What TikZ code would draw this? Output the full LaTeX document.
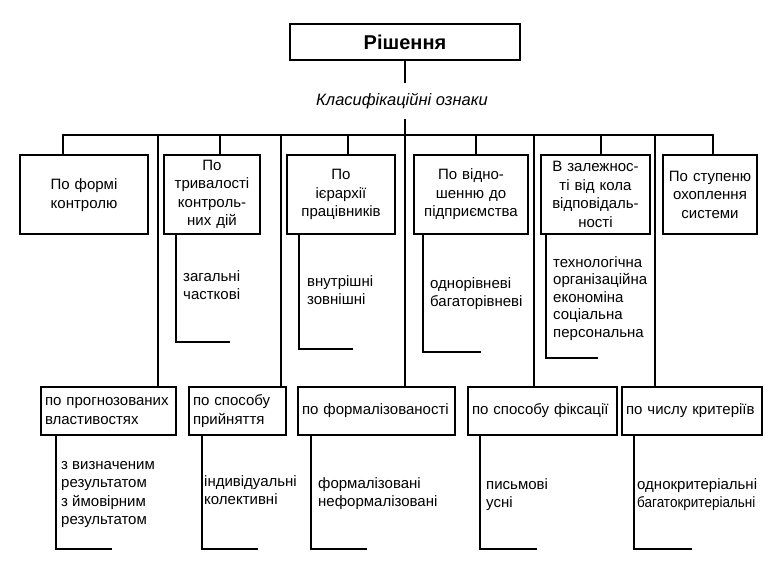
\documentclass[tikz,border=0pt]{standalone}
\usepackage{fontspec}
\setmainfont{Liberation Sans}
\tikzset{
  conn/.style={line width=1.4pt},
  headbox/.style={draw, line width=1.4pt, font=\fontsize{20}{24}\selectfont\bfseries,
    minimum width=230, minimum height=36, inner sep=0pt},
  catbox/.style={draw, line width=1.4pt, font=\fontsize{15}{18.5}\selectfont,
    align=center, inner xsep=3pt, inner ysep=0pt, minimum height=79},
  subbox/.style={draw, line width=1.4pt, font=\fontsize{15}{19}\selectfont,
    align=left, inner xsep=4pt, inner ysep=0pt, minimum height=48},
  items/.style={font=\fontsize{15}{18.5}\selectfont, align=left,
    anchor=north west, inner sep=0pt},
}
\begin{document}
\begin{tikzpicture}[x=1pt,y=-1pt]
\useasboundingbox (0,0) rectangle (766,563);

% root and the classification label
\node[headbox] (top) at (405,42) {Рішення};
\node[font=\fontsize{16.5}{20}\selectfont\itshape, text height=12, text depth=4,
      inner xsep=0pt, inner ysep=10pt] (lbl) at (402,101) {Класифікаційні ознаки};

% bus and branch points
\coordinate (busL) at (63,135);
\coordinate (busR) at (713,135);
\coordinate (t2) at (220,135);
\coordinate (t3) at (348,135);
\coordinate (t4) at (476,135);
\coordinate (t5) at (601,135);
\coordinate (k1) at (158,135);
\coordinate (k2) at (281,135);
\coordinate (k3) at (405,135);
\coordinate (k4) at (534,135);
\coordinate (k5) at (655,135);

% first row of criteria
\node[catbox, text width=122] (r1a) at (84,194.5) {\\[-6pt]По формі\\контролю};
\node[catbox, text width=90]  (r1b) at (212,194.5) {По\\тривалості\\контроль-\\них дій};
\node[catbox, text width=102] (r1c) at (341,194.5) {По\\ієрархії\\працівників};
\node[catbox, text width=108] (r1d) at (471,194.5) {По відно-\\шенню до\\підприємства};
\node[catbox, text width=103] (r1e) at (595.5,194.5) {В залежнос-\\ті від кола\\відповідаль-\\ності};
\node[catbox, text width=88]  (r1f) at (710,194.5) {По ступеню\\охоплення\\системи};

% second row of criteria
\node[subbox, text width=127] (r2a) at (108.5,411) {по прогнозованих\\властивостях};
\node[subbox, text width=89]  (r2b) at (237.5,411) {по способу\\прийняття};
\node[subbox, text width=149] (r2c) at (376.5,411) {по формалізованості};
\node[subbox, text width=141] (r2d) at (542.5,411) {по способу фіксації};
\node[subbox, text width=132] (r2e) at (692,411) {по числу критеріїв};

% trunk
\draw[conn] (top.south) -- (lbl.north -| top.south);
\draw[conn] (k3 |- lbl.south) -- (k3);

% bus with drops to the first row
\draw[conn] (r1a.north -| busL) -- (busL) -- (busR) -- (r1f.north -| busR);
\draw[conn] (t2) -- (t2 |- r1b.north);
\draw[conn] (t3) -- (t3 |- r1c.north);
\draw[conn] (t4) -- (t4 |- r1d.north);
\draw[conn] (t5) -- (t5 |- r1e.north);

% long drops to the second row
\draw[conn] (k1) -- (k1 |- r2a.north);
\draw[conn] (k2) -- (k2 |- r2b.north);
\draw[conn] (k3) -- (k3 |- r2c.north);
\draw[conn] (k4) -- (k4 |- r2d.north);
\draw[conn] (k5) -- (k5 |- r2e.north);

% value lists under the first row
\node[items] (v2) at (183,268) {\strut загальні\\часткові};
\node[items] (v3) at (307,273) {\strut внутрішні\\зовнішні};
\node[items] (v4) at (430,275) {\strut однорівневі\\багаторівневі};
\node[items, font=\fontsize{15}{17.5}\selectfont] (v5) at (553,254.6)
  {\strut технологічна\\організаційна\\економіна\\соціальна\\персональна};

\coordinate (b2) at (176,342);  \coordinate (e2) at (230,342);
\coordinate (b3) at (299,349);  \coordinate (e3) at (353,349);
\coordinate (b4) at (423,352);  \coordinate (e4) at (481,352);
\coordinate (b5) at (546,358);  \coordinate (e5) at (598,358);
\draw[conn] (b2 |- r1b.south) -- (b2) -- (e2);
\draw[conn] (b3 |- r1c.south) -- (b3) -- (e3);
\draw[conn] (b4 |- r1d.south) -- (b4) -- (e4);
\draw[conn] (b5 |- r1e.south) -- (b5) -- (e5);

% value lists under the second row
\node[items] (w1) at (61,456) {\strut з визначеним\\результатом\\з ймовірним\\результатом};
\node[items] (w2) at (204,473) {\strut індивідуальні\\колективні};
\node[items] (w3) at (318,475) {\strut формалізовані\\неформалізовані};
\node[items] (w4) at (486,476) {\strut письмові\\усні};
\node[items] (w5) at (637,476) {\strut однокритеріальні\\\scalebox{0.9}[1]{багатокритеріальні}};

\coordinate (c1) at (56,549);   \coordinate (f1) at (112,549);
\coordinate (c2) at (202,549);  \coordinate (f2) at (258,549);
\coordinate (c3) at (311,549);  \coordinate (f3) at (367,549);
\coordinate (c4) at (480,549);  \coordinate (f4) at (537,549);
\coordinate (c5) at (634,549);  \coordinate (f5) at (692,549);
\draw[conn] (c1 |- r2a.south) -- (c1) -- (f1);
\draw[conn] (c2 |- r2b.south) -- (c2) -- (f2);
\draw[conn] (c3 |- r2c.south) -- (c3) -- (f3);
\draw[conn] (c4 |- r2d.south) -- (c4) -- (f4);
\draw[conn] (c5 |- r2e.south) -- (c5) -- (f5);
\end{tikzpicture}
\end{document}
